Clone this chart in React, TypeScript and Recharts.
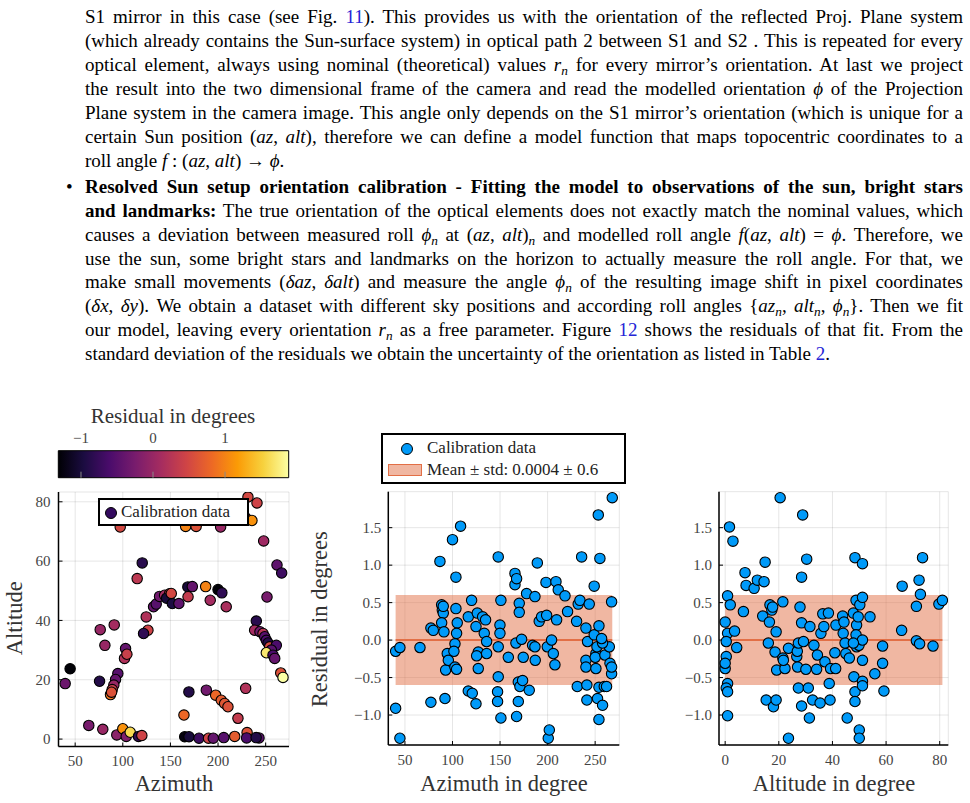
import React from "react";
import { ScatterChart, Scatter, XAxis, YAxis, CartesianGrid, ReferenceArea, ReferenceLine } from "recharts";

const FONT = '"Liberation Serif", "Times New Roman", serif';

// [azimuth, altitude, residual]
const skyPoints: number[][] = [
  [39.5, 18.7, -0.35], [44.7, 23.7, -1.3], [75.6, 19.5, -0.9], [76.3, 36.9, 0.0], [81.2, 31.6, 0.0],
  [91, 38.5, 0.1], [94.8, 22.1, -0.5], [92.4, 20.1, -0.4], [90.6, 18.2, 0.0], [88.9, 16.7, 0.4],
  [87.1, 15.0, 0.9], [88.2, 15.8, 0.6], [102.9, 30.5, -0.4], [101.8, 27.2, 0.2], [104.3, 28.6, 0.4],
  [64.3, 4.6, -0.25], [79, 3.3, 0.0], [93.7, 1.4, -0.1], [100, 3.5, 1.1], [103.6, 0.9, -0.2],
  [107.8, 2.3, 1.6], [116.5, 0.9, -0.8], [120, 1.2, 0.45], [97.3, 71.5, 0.5], [120.4, 59.4, -0.85],
  [115.1, 54.1, 0.3], [124.6, 41.2, 0.2], [126.4, 36.7, 0.45], [121.8, 35.6, -0.8], [132.3, 44.6, -0.4],
  [135.1, 45.5, -0.5], [138.6, 48.1, -0.3], [143.9, 48.5, 0.1], [149.1, 49.0, 0.45], [146, 47.5, -1.0],
  [152, 45.7, -0.95], [158.9, 45.7, -0.45], [150.9, 49.1, 0.5], [168.3, 51.3, -1.0], [173, 51.4, -0.4],
  [168.5, 48, 0.35], [187, 51.4, 1.0], [200, 50.4, -1.3], [204, 49.3, -0.8], [191.8, 46.8, 0.1],
  [208.6, 44.6, 0.15], [166, 71.7, 1.0], [177, 71.7, 0.6], [202.7, 71.5, 0.0], [231.4, 81.6, 0.5],
  [240.9, 79.6, 0.45], [229, 74.6, 0.5], [235.6, 73.7, 1.1], [247.9, 66.8, 0.05], [261.9, 58.7, -0.45],
  [266.8, 56, -0.7], [251.4, 47.9, -0.25], [240.2, 39.8, -0.85], [238.4, 36.7, 0.1], [244, 36.2, -0.3],
  [247.2, 35.6, 0.25], [249, 34.5, -0.5], [250.7, 33.3, -0.6], [252.5, 32.4, -0.9], [254.2, 31.1, 0.5],
  [261.2, 31.6, -0.6], [256, 30, -0.5], [250.7, 29.1, 1.7], [257.7, 28.3, -0.6], [259.5, 27.2, -0.4],
  [265.8, 22.3, 0.6], [268.2, 20.8, 1.89], [229, 17.1, 0.2], [169.4, 15.9, -0.9], [187.7, 16.5, -0.3],
  [197.5, 14.8, 0.8], [203.4, 13.1, 0.7], [206.9, 12.0, 0.65], [210.4, 10.9, 0.6], [220.9, 7.0, 0.35],
  [164.2, 8.1, 0.8], [165, 0.8, -1.25], [169.5, 0.8, -1.0], [180, 0.3, -0.7], [190, 0.3, 0.45],
  [195, 0.3, -0.4], [206, 0.5, -0.5], [217.5, 0.9, 0.7], [230.5, 2.2, 0.6], [230, 0.4, -0.6],
  [243, 0.4, -0.5], [240, 0.5, -0.9],
];

// [azimuth, residual]
const azResPoints: number[][] = [
  [40.2, -0.15], [44.7, -0.1], [40.2, -0.91], [44.7, -1.31], [65.8, -0.1], [77.3, -0.83], [77.3, 0.16],
  [79.8, 0.13], [86.8, 1.05], [88.6, 0.47], [89.3, 0.4], [90.3, 0.36], [90.3, 0.45], [88.6, 0.23],
  [91, 0.11], [92.1, -0.78], [92.8, -0.4], [94.5, -0.18], [95.6, -0.27], [100, 1.34], [108.5, 1.52],
  [103.6, 0.84], [103.6, 0.42], [105, 0.23], [104.3, 0.09], [102.6, -0.05], [101.5, -0.15], [102.6, -0.36],
  [104.3, -0.39], [116.6, 0.31], [120.1, 0.53], [116.6, -0.68], [120.8, -0.71], [124.7, -0.85],
  [126.1, 0.36], [124.7, 0.18], [127.1, -0.16], [127.1, -0.38], [125.4, -0.21], [131.7, 0.31], [133.4, 0.09],
  [134.8, 0.27], [135.9, -0.02], [135.9, -0.18], [148.1, 1.11], [149.9, 0.2], [149.9, 0.09], [148.1, -0.09],
  [148.1, -0.49], [147.4, -0.69], [147.4, -0.82], [150.9, -1.04], [150.9, 0.53], [158.7, -0.23], [165.7, 0.89],
  [165.7, 0.74], [167.4, 0.82], [166.7, -0.04], [170.2, 0.49], [170.2, 0.37], [172.7, 0.01], [174.4, -0.23],
  [169.2, -0.56], [170.9, -0.62], [173.7, -0.54], [169.2, -0.82], [167.4, -1.02], [177.9, 0.62], [180.7, -0.67],
  [184.2, -0.07], [186.7, -0.09], [186.7, 0.58], [189.2, 1.03], [187, -0.27], [191.2, 0.25], [193.7, 0.31],
  [199, 0.33], [198.3, 0.77], [199.7, -0.09], [200.7, -1.31], [201.8, -1.2], [204.2, 0.0], [206, -0.18],
  [207.7, -0.33], [208.8, 0.78], [211.2, 0.67], [209.5, 0.27], [218.3, 0.59], [221, 0.38], [230.5, 0.25],
  [231.2, -0.62], [232.2, 0.48], [235.8, 1.11], [234, 0.53], [241.3, -0.6], [241.3, -0.8], [240.3, -0.27],
  [240.3, -0.36], [242, -0.02], [240.3, 0.16], [243.8, 0.48], [249, 0.72], [249, 0.07], [250.8, -0.18],
  [250.8, -0.38], [250.1, -0.23], [251.9, -0.09], [253.3, 1.67], [254, 0.19], [255, 1.09], [252.5, -0.78],
  [254, -1.06], [254, -0.63], [257.8, -0.87], [259.6, -0.62], [260.3, -0.2], [264.9, -0.09], [265.6, -0.31],
  [267.3, -0.45], [267.3, -0.36], [267.3, 0.51], [268, 1.9], [262, -0.62], [257.8, -0.04], [256.8, 0.02],
];

// [altitude, residual]
const altResPoints: number[][] = [
  [1.6, 1.51], [2.9, 1.32], [0.9, 0.59], [1.9, 0.47], [0, 0.24], [0.9, 0.09], [0.4, -0.02], [3.5, 0.12],
  [4.3, -0.1], [0.4, -0.22], [0, -0.38], [0.9, -0.58], [0.4, -0.64], [0.9, -0.69], [0.9, -1.01], [0, -0.31],
  [6.8, 0.38], [7.4, 0.9], [7.8, 0.73], [10.8, 0.69], [12, 0.8], [14.9, 1.04], [14.5, 0.78], [14, 0.32],
  [15.3, -0.8], [16.1, -0.04], [16.5, 0.24], [16.7, 0.47], [17.4, 0.4], [17.7, 0.44], [18, -0.89], [19, -0.8],
  [18.6, -0.16], [19, 0.11], [19.2, -0.4], [21.5, 0.51], [20.5, 1.9], [21.5, -0.24], [22.3, -0.38],
  [21.7, -0.27], [23.6, -0.11], [23.6, -1.31], [26.7, -0.22], [26.9, -0.15], [27, -0.36], [27.3, -0.04],
  [27.3, -0.64], [27.9, 0.44], [28.5, 0.84], [28.9, 1.67], [28.5, 0.23], [28.5, -0.88], [29.2, -0.02],
  [30.4, 1.08], [30.1, -0.39], [31, -0.64], [31.4, -1.04], [31.6, 0.18], [32.6, -0.8], [33.1, -0.07],
  [34.1, -0.39], [34.4, -0.2], [35.4, -0.84], [35.7, 0.09], [36.4, 0.35], [36.8, 0.18], [37.2, -0.29],
  [38.5, 0.36], [38.8, -0.58], [39.1, -0.8], [39.3, -0.38], [40.9, -0.17], [41.2, -0.38], [41.3, 0.2],
  [43.8, 0.32], [44, 0.09], [44.3, 0.24], [44.7, -0.04], [45, -0.18], [45.5, -1.04], [46.3, -0.24],
  [47.8, 0.36], [48, -0.49], [48.4, -0.69], [48.4, -0.82], [48.4, 1.1], [48.8, 0.53], [49, 0.2], [48.8, 0.07],
  [49, -0.09], [49.6, 0.31], [49.9, -0.07], [50.2, 0.47], [50, -1.2], [50, -1.31], [51.2, 1.02], [51.2, 0.57],
  [51.2, 0.0], [51.2, -0.27], [51.2, -0.55], [51.2, -0.61], [54, 0.31], [55.8, -0.45], [58.7, -0.08],
  [58.7, -0.31], [59.2, -0.68], [66, 0.72], [65.8, 0.13], [71.3, 0.45], [72.3, 0.8], [72.8, 0.61],
  [73.6, 1.1], [71.3, -0.01], [72.5, -0.05], [77.5, -0.08], [79.7, 0.48], [81, 0.53], [47.8, -0.04],
];

const RES_MEAN = 0.0004;
const RES_STD = 0.6;
const AZ_TICKS = [50, 100, 150, 200, 250];
const ALT_TICKS = [0, 20, 40, 60, 80];
const RES_TICKS = [-1, -0.5, 0, 0.5, 1, 1.5];
const CBAR_TICKS = [-1, 0, 1];
const CBAR_RANGE = [-1.315, 1.884];
const INFERNO = ["#000004", "#1b0c41", "#4a0c6b", "#781c6d", "#a52c60", "#cf4446", "#ed6925", "#fb9b06", "#f7d13d", "#fcffa4"];

const BLUE = "#009af9";
const BAND = "#e26f46";

function hexToRgb(h: string) {
  return [1, 3, 5].map((i) => parseInt(h.slice(i, i + 2), 16));
}
function infernoColor(v: number) {
  const t = Math.min(1, Math.max(0, (v - CBAR_RANGE[0]) / (CBAR_RANGE[1] - CBAR_RANGE[0])));
  const s = t * (INFERNO.length - 1);
  const i = Math.min(INFERNO.length - 2, Math.floor(s));
  const f = s - i;
  const a = hexToRgb(INFERNO[i]);
  const b = hexToRgb(INFERNO[i + 1]);
  const c = a.map((x, k) => Math.round(x + (b[k] - x) * f));
  return `rgb(${c[0]},${c[1]},${c[2]})`;
}

const minus = (s: string) => s.replace("-", "\u2212");
const fmtInt = (v: number) => minus(String(v));
const fmt1 = (v: number) => minus(v.toFixed(1));

const tickStyle = { fontFamily: FONT, fontSize: 15, fill: "#444" };
const axisLine = { stroke: "#000", strokeWidth: 1.5 };

const skyData = skyPoints.map(([x, y, r]) => ({ x, y, r }));
const azData = azResPoints.map(([x, y]) => ({ x, y }));
const altData = altResPoints.map(([x, y]) => ({ x, y }));
const cbarData = CBAR_TICKS.map((x) => ({ x, y: 0.5 }));

const azMin = Math.min(...azResPoints.map((p) => p[0]));
const azMax = Math.max(...azResPoints.map((p) => p[0]));
const altMin = Math.min(...altResPoints.map((p) => p[0]));
const altMax = Math.max(...altResPoints.map((p) => p[0]));

const blueDot = (p: any) => <circle cx={p.cx} cy={p.cy} r={5.2} fill={BLUE} stroke="#000" strokeWidth={1.1} />;
const skyDot = (p: any) => <circle cx={p.cx} cy={p.cy} r={5.2} fill={infernoColor(p.payload.r)} stroke="#000" strokeWidth={1.1} />;
const noDot = () => <g />;

function Label({ text, cx, top, rotate, size = 22.5 }: { text: string; cx: number; top: number; rotate?: boolean; size?: number }) {
  return (
    <div
      style={{
        position: "absolute", left: cx - 150, top, width: 300, textAlign: "center",
        fontFamily: FONT, fontSize: size, lineHeight: `${size}px`, color: "#333", whiteSpace: "nowrap",
        transform: rotate ? "rotate(-90deg)" : undefined,
      }}
    >
      {text}
    </div>
  );
}

function ResidualPlot({ data, xTicks, xDomain, band, left, yWidth, right }: any) {
  return (
    <div style={{ position: "absolute", left, top: 480 }}>
      <ScatterChart width={310} height={300} margin={{ top: 11.7, right, left: 0, bottom: 0 }}>
        <CartesianGrid stroke="#000" strokeOpacity={0.1} />
        <XAxis type="number" dataKey="x" domain={xDomain} ticks={xTicks} allowDataOverflow height={35}
          tick={tickStyle} tickFormatter={fmtInt} axisLine={axisLine} tickLine={{ stroke: "#000" }} tickSize={-4} tickMargin={13} />
        <YAxis type="number" dataKey="y" domain={[-1.4, 1.98]} ticks={RES_TICKS} allowDataOverflow width={yWidth}
          tick={tickStyle} tickFormatter={fmt1} axisLine={axisLine} tickLine={{ stroke: "#000" }} tickSize={-4} tickMargin={11} />
        <ReferenceArea x1={band[0]} x2={band[1]} y1={RES_MEAN - RES_STD} y2={RES_MEAN + RES_STD} fill={BAND} fillOpacity={0.5} stroke="none" />
        <ReferenceLine segment={[{ x: band[0], y: RES_MEAN }, { x: band[1], y: RES_MEAN }]} stroke={BAND} strokeWidth={2} />
        <Scatter data={data} shape={blueDot} isAnimationActive={false} />
      </ScatterChart>
    </div>
  );
}

const A = ({ children }: any) => <span style={{ color: "#2424d6" }}>{children}</span>;
const Sub = ({ children }: any) => (
  <sub style={{ fontSize: "0.7em", verticalAlign: "-0.3em", lineHeight: 0 }}>{children}</sub>
);

function Line({ children, last }: any) {
  return (
    <div style={{ height: 23.9, lineHeight: "23.9px", whiteSpace: "nowrap", textAlign: last ? "left" : "justify", textAlignLast: last ? "left" : "justify" }}>
      {children}
    </div>
  );
}

const textBox = { position: "absolute" as const, left: 85, width: 878, fontFamily: FONT, fontSize: 19, color: "#000" };

export default function App() {
  return (
    <div style={{ position: "absolute", left: 0, top: 0, width: 970, height: 803, background: "#fff", overflow: "hidden", color: "#000" }}>
      <div style={{ ...textBox, top: 5.4 }}>
        <Line>S1 mirror in this case (see Fig. <A>11</A>). This provides us with the orientation of the reflected Proj. Plane system</Line>
        <Line>(which already contains the Sun-surface system) in optical path 2 between S1 and S2 . This is repeated for every</Line>
        <Line>optical element, always using nominal (theoretical) values <i>r<Sub>n</Sub></i> for every mirror’s orientation. At last we project</Line>
        <Line>the result into the two dimensional frame of the camera and read the modelled orientation <i>ϕ</i> of the Projection</Line>
        <Line>Plane system in the camera image. This angle only depends on the S1 mirror’s orientation (which is unique for a</Line>
        <Line>certain Sun position (<i>az</i>, <i>alt</i>), therefore we can define a model function that maps topocentric coordinates to a</Line>
        <Line last>roll angle <i>f</i>&nbsp;: (<i>az</i>, <i>alt</i>) → <i>ϕ</i>.</Line>
      </div>
      <div style={{ position: "absolute", left: 66, top: 174.9, fontFamily: FONT, fontSize: 19, lineHeight: "23.9px" }}>•</div>
      <div style={{ ...textBox, top: 174.9 }}>
        <Line><b>Resolved Sun setup orientation calibration - Fitting the model to observations of the sun, bright stars</b></Line>
        <Line><b>and landmarks:</b> The true orientation of the optical elements does not exactly match the nominal values, which</Line>
        <Line>causes a deviation between measured roll <i>ϕ<Sub>n</Sub></i> at (<i>az</i>, <i>alt</i>)<i><Sub>n</Sub></i> and modelled roll angle <i>f</i>(<i>az</i>, <i>alt</i>) = <i>ϕ</i>. Therefore, we</Line>
        <Line>use the sun, some bright stars and landmarks on the horizon to actually measure the roll angle. For that, we</Line>
        <Line>make small movements (<i>δaz</i>, <i>δalt</i>) and measure the angle <i>ϕ<Sub>n</Sub></i> of the resulting image shift in pixel coordinates</Line>
        <Line>(<i>δx</i>, <i>δy</i>). We obtain a dataset with different sky positions and according roll angles {"{"}<i>az<Sub>n</Sub></i>, <i>alt<Sub>n</Sub></i>, <i>ϕ<Sub>n</Sub></i>{"}"}. Then we fit</Line>
        <Line>our model, leaving every orientation <i>r<Sub>n</Sub></i> as a free parameter. Figure <A>12</A> shows the residuals of that fit. From the</Line>
        <Line last>standard deviation of the residuals we obtain the uncertainty of the orientation as listed in Table <A>2</A>.</Line>
      </div>

      {/* colour bar */}
      <Label text="Residual in degrees" cx={173} top={406} size={21} />
      <div style={{ position: "absolute", left: 0, top: 405 }}>
        <ScatterChart width={300} height={80} margin={{ top: 25.7, right: 11.3, left: 58.3, bottom: 0 }}>
          <defs>
            <linearGradient id="infernoGrad" x1="0" y1="0" x2="1" y2="0">
              {INFERNO.map((c, i) => <stop key={i} offset={i / (INFERNO.length - 1)} stopColor={c} />)}
            </linearGradient>
          </defs>
          <XAxis type="number" dataKey="x" orientation="top" domain={CBAR_RANGE} ticks={CBAR_TICKS} allowDataOverflow height={20}
            tick={tickStyle} tickFormatter={fmtInt} axisLine={false} tickLine={false} tickSize={-6} tickMargin={14} />
          <YAxis type="number" dataKey="y" domain={[0, 1]} hide />
          <ReferenceArea x1={CBAR_RANGE[0]} x2={CBAR_RANGE[1]} y1={0} y2={1} fill="url(#infernoGrad)" fillOpacity={1} stroke="#000" strokeWidth={1} />
          <Scatter data={cbarData} shape={noDot} isAnimationActive={false} />
          <XAxis xAxisId="tt" type="number" dataKey="x" orientation="top" domain={CBAR_RANGE} ticks={CBAR_TICKS} allowDataOverflow height={0}
            tick={tickStyle} tickFormatter={() => ""} axisLine={false} tickLine={{ stroke: "#8a8a8a" }} tickSize={-6} tickMargin={0} />
          <XAxis xAxisId="bb" type="number" dataKey="x" orientation="bottom" domain={CBAR_RANGE} ticks={CBAR_TICKS} allowDataOverflow height={7.3}
            tick={tickStyle} tickFormatter={() => ""} axisLine={false} tickLine={{ stroke: "#8a8a8a" }} tickSize={-6} tickMargin={0} />
        </ScatterChart>
      </div>

      {/* sky positions */}
      <div style={{ position: "absolute", left: 0, top: 480 }}>
        <ScatterChart width={300} height={300} margin={{ top: 12, right: 11, left: 0, bottom: 0 }}>
          <CartesianGrid stroke="#000" strokeOpacity={0.1} />
          <XAxis type="number" dataKey="x" domain={[32.5, 274.5]} ticks={AZ_TICKS} allowDataOverflow height={33.5}
            tick={tickStyle} tickFormatter={fmtInt} axisLine={axisLine} tickLine={{ stroke: "#000" }} tickSize={-4} tickMargin={13} />
          <YAxis type="number" dataKey="y" domain={[-2.5, 83.3]} ticks={ALT_TICKS} allowDataOverflow width={58.5}
            tick={tickStyle} tickFormatter={fmtInt} axisLine={axisLine} tickLine={{ stroke: "#000" }} tickSize={-4} tickMargin={12} />
          <Scatter data={skyData} shape={skyDot} isAnimationActive={false} />
        </ScatterChart>
      </div>
      <div style={{ position: "absolute", left: 98, top: 498, width: 147, height: 24, border: "2px solid #000", background: "#fff",
        fontFamily: FONT, fontSize: 17, lineHeight: "24px", color: "#222" }}>
        <span style={{ position: "absolute", left: 5, top: 6.5, width: 10, height: 10, borderRadius: 6, background: "#33095e", border: "1.1px solid #000" }} />
        <span style={{ position: "absolute", left: 21, top: 0, whiteSpace: "nowrap" }}>Calibration data</span>
      </div>

      <ResidualPlot data={azData} xTicks={AZ_TICKS} xDomain={[32.5, 275.4]} band={[azMin, azMax]} left={320} yWidth={68.3} right={10.7} />
      <ResidualPlot data={altData} xTicks={ALT_TICKS} xDomain={[-2.3, 83.2]} band={[altMin, altMax]} left={650} yWidth={69} right={11.7} />

      <div style={{ position: "absolute", left: 381, top: 433, width: 241, height: 47, border: "2px solid #000", background: "#fff",
        fontFamily: FONT, fontSize: 17, color: "#222" }}>
        <span style={{ position: "absolute", left: 18, top: 7.5, width: 10, height: 10, borderRadius: 6, background: BLUE, border: "1.1px solid #000" }} />
        <span style={{ position: "absolute", left: 44, top: 2, lineHeight: "22px", whiteSpace: "nowrap" }}>Calibration data</span>
        <span style={{ position: "absolute", left: 5, top: 29, width: 32, height: 10, background: "rgba(226,111,70,0.5)", border: "1.5px solid " + BAND }} />
        <span style={{ position: "absolute", left: 44, top: 23.5, lineHeight: "22px", whiteSpace: "nowrap" }}>Mean ± std: 0.0004 ± 0.6</span>
      </div>

      <Label text="Azimuth" cx={174} top={773} />
      <Label text="Altitude" cx={14.5} top={607} rotate />
      <Label text="Azimuth in degree" cx={504} top={773} />
      <Label text="Residual in degrees" cx={320} top={608} rotate />
      <Label text="Altitude in degree" cx={834} top={773} />
    </div>
  );
}
